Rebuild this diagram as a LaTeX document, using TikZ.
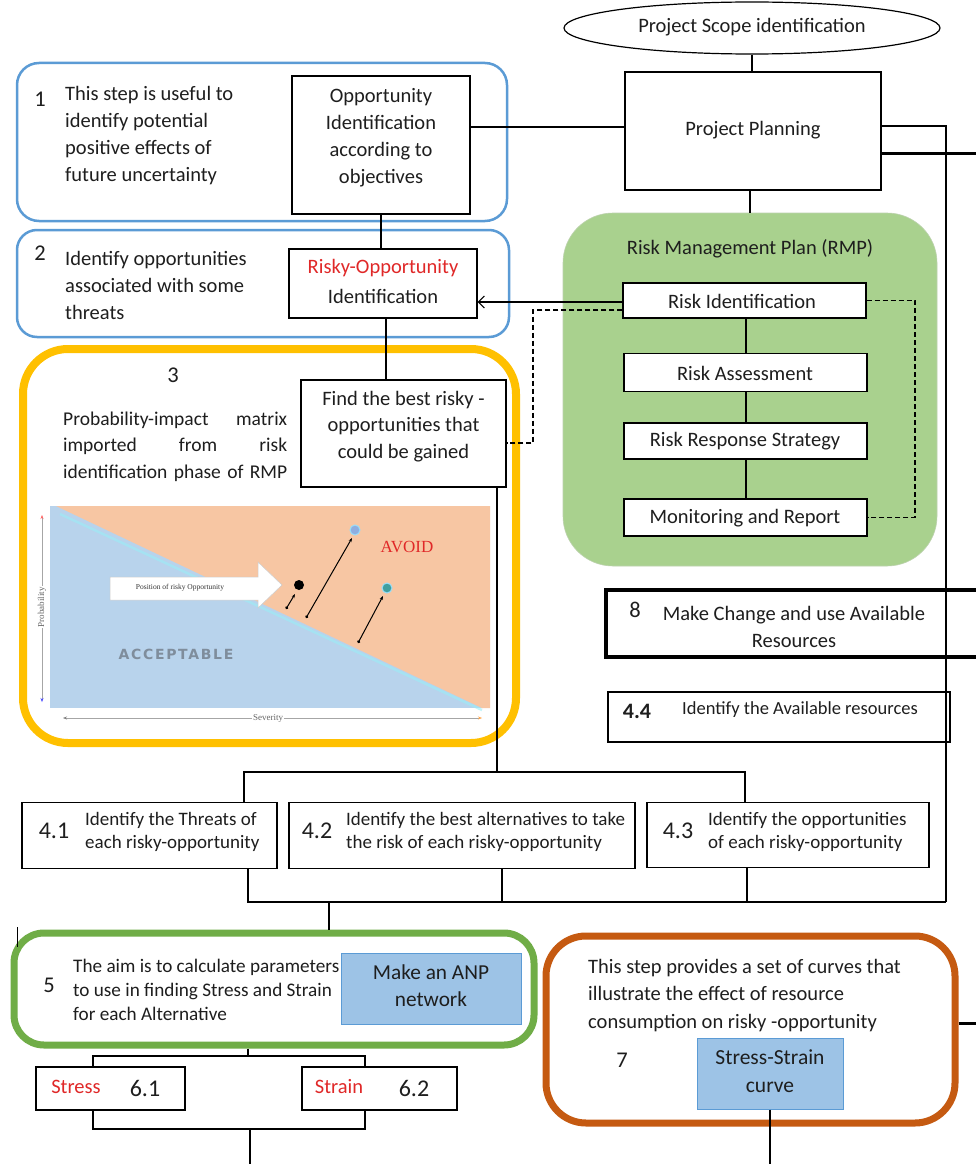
\documentclass[tikz,border=0pt]{standalone}
\usepackage{fontspec}
\setmainfont{Carlito}
\newfontfamily\chartserif{Liberation Serif}
\newfontfamily\accfont[LetterSpace=12]{DejaVu Sans}
\usetikzlibrary{shapes.geometric,arrows.meta}
\definecolor{blueframe}{HTML}{5B9BD5}
\definecolor{yellowframe}{HTML}{FFC000}
\definecolor{greenframe}{HTML}{70AD47}
\definecolor{orangeframe}{HTML}{C55A11}
\definecolor{rmpgreen}{HTML}{A9D18E}
\definecolor{anpblue}{HTML}{9DC3E6}
\definecolor{peach}{HTML}{F7C6A3}
\definecolor{skyfill}{HTML}{B8D3EC}
\definecolor{txtred}{HTML}{E02828}
\definecolor{txt}{HTML}{1E1E1E}
\definecolor{accgray}{HTML}{7F8D9C}
\tikzset{
  box/.style={draw=black, line width=1.2pt, fill=white, inner sep=0pt},
  conn/.style={draw=black, line width=1.1pt},
  thickconn/.style={draw=black, line width=3pt},
  frame/.style={rounded corners=#1, inner sep=0pt},
  tx/.style={text=txt, inner sep=0pt, font=\fontsize{20.5}{27}\selectfont},
  txl/.style={tx, align=left, anchor=west},
  txc/.style={tx, align=center},
  num/.style={text=txt, inner sep=0pt, font=\fontsize{22.5}{26}\selectfont},
  bignum/.style={text=txt, inner sep=0pt, font=\fontsize{24}{28}\selectfont},
  dot/.style={circle, inner sep=0pt, minimum size=#1},
}
\begin{document}
\begin{tikzpicture}[x=1pt,y=-1pt]
\useasboundingbox (0,0) rectangle (976,1164);
\clip (0,0) rectangle (976,1164);
\fill[white] (0,0) rectangle (976,1164);

% ---------- frames ----------
\node[frame=22pt, draw=blueframe, line width=2.5pt, minimum width=490, minimum height=158] (f1) at (262,142) {};
\node[frame=20pt, draw=blueframe, line width=2.5pt, minimum width=492, minimum height=107] (f2) at (263,283.5) {};
\node[frame=45pt, draw=yellowframe, line width=8pt, minimum width=493, minimum height=394] (f3) at (269.5,546) {};
\node[frame=50pt, fill=rmpgreen, draw=rmpgreen!85!black!60, line width=0.6pt, minimum width=374, minimum height=353] (rmp) at (750,389.5) {};
\node[frame=30pt, draw=greenframe, line width=7pt, minimum width=520, minimum height=112] (f5) at (274,989) {};
\node[frame=40pt, draw=orangeframe, line width=7pt, minimum width=409, minimum height=187] (f7) at (750.5,1029.5) {};

% ---------- chart (probability-impact matrix) ----------
\fill[skyfill] (50,506) rectangle (490,708);
\fill[peach] (56,506) -- (490,506) -- (490,708) -- (482,708) -- cycle;
\draw[color=skyfill!60!cyan!70, line width=2.5pt, opacity=0.6] (60,514) -- (482,710);
\draw[color=gray!70, line width=0.5pt, {Stealth[length=4pt,color=red!60]}-{Stealth[length=4pt,color=blue!70]}] (42,515) -- (42,702);
\node[rotate=90, fill=white, inner sep=1pt, text=gray!80!black, font=\chartserif\fontsize{9}{10}\selectfont] (plab) at (42,607) {Probability};
\draw[color=gray!70, line width=0.5pt, {Stealth[length=4pt,color=gray]}-{Stealth[length=4pt,color=orange!70]}] (63,718) -- (482,718);
\node[fill=white, inner sep=1pt, text=gray!80!black, font=\chartserif\fontsize{9}{10}\selectfont] (slab) at (268,718) {Severity};
\draw[fill=white, draw=gray!40, line width=0.5pt] (110,577) -- (258,577) -- (258,562) -- (282,585) -- (258,608) -- (258,600) -- (110,600) -- cycle;
\node[text=black!80, inner sep=0pt, font=\chartserif\fontsize{7.5}{9}\selectfont] (posl) at (180,588) {Position of risky Opportunity};
\node[dot=10pt, fill=black] (bd) at (299,585) {};
\node[dot=10pt, fill=cyan!50!blue!45, draw=cyan!40, line width=1pt] (cd) at (355,530) {};
\node[dot=10pt, fill=teal!75, draw=cyan!40, line width=1pt] (td) at (387,588) {};
\coordinate (a1s) at (286,609); \coordinate (a1e) at (295,594);
\coordinate (a2s) at (306,618); \coordinate (a2e) at (352,538);
\coordinate (a3s) at (358,643); \coordinate (a3e) at (383,596);
\draw[line width=1pt, {Circle[length=3pt]}-{Stealth[length=4pt]}] (a1s) -- (a1e);
\draw[line width=1pt, {Circle[length=3pt]}-{Stealth[length=4pt]}] (a2s) -- (a2e);
\draw[line width=1pt, {Circle[length=3pt]}-{Stealth[length=4pt]}] (a3s) -- (a3e);
\node[text=txtred, inner sep=0pt, font=\chartserif\fontsize{17}{18}\selectfont] (avoid) at (407,547) {AVOID};
\node[text=accgray, inner sep=0pt, font=\accfont\bfseries\fontsize{14}{16}\selectfont] (acc) at (176,654) {ACCEPTABLE};

% ---------- boxes ----------
\node[box, ellipse, minimum width=376, minimum height=52] (scope) at (752,28) {};
\node[box, minimum width=256, minimum height=118] (pp) at (753,131) {};
\node[box, minimum width=178, minimum height=138] (opp) at (381,145) {};
\node[box, minimum width=188, minimum height=69] (risky) at (383,283.5) {};
\node[box, minimum width=205, minimum height=107] (find) at (403.5,433.5) {};
\node[box, minimum width=243, minimum height=35] (ri) at (744.5,300.5) {};
\node[box, minimum width=243, minimum height=38] (ra) at (745.5,372.5) {};
\node[box, minimum width=243, minimum height=36] (rrs) at (745.5,441) {};
\node[box, minimum width=243, minimum height=37] (mr) at (745.5,517.5) {};
\node[box, line width=4pt, minimum width=390, minimum height=67] (b8) at (801,623.5) {};
\node[box, minimum width=342, minimum height=50] (b44) at (779,717) {};
\node[box, minimum width=255, minimum height=66] (b41) at (149.5,835.5) {};
\node[box, minimum width=346, minimum height=66] (b42) at (462,835.5) {};
\node[box, minimum width=282, minimum height=65] (b43) at (788,835) {};
\node[box, fill=anpblue, draw=blueframe, line width=1pt, minimum width=180, minimum height=71] (anp) at (431,988.5) {};
\node[box, minimum width=149, minimum height=43] (stress) at (110.5,1088.5) {};
\node[box, minimum width=155, minimum height=43] (strain) at (379.5,1088.5) {};
\node[box, fill=anpblue, draw=blueframe, line width=1pt, minimum width=146, minimum height=71] (curve) at (770,1073.5) {};

% ---------- connector coordinates ----------
\coordinate (rv) at (946,126);
\coordinate (bb2) at (946,902);
\coordinate (bb1) at (248,902);
\coordinate (bt1) at (244,772);
\coordinate (bt2) at (745,772);
\coordinate (ft) at (497,772);
\coordinate (dl) at (533,310);
\coordinate (dr) at (915,300.5);
\coordinate (g5) at (329,902);
\coordinate (sb) at (248,1056);
\coordinate (sb1) at (93,1056);
\coordinate (sb2) at (365,1056);
\coordinate (lb) at (250,1129);
\coordinate (lb1) at (93,1129);
\coordinate (lb2) at (365,1129);
\coordinate (bottomL) at (250,1164);
\coordinate (bottomR) at (770,1164);
\coordinate (edge1) at (976,153);
\coordinate (edge2) at (976,1023);
\coordinate (mk1) at (17,927);
\coordinate (mk2) at (17,947);

% ---------- connectors ----------
\draw[conn] (scope.south) -- (scope.south |- pp.north);
\draw[conn] (pp.west |- 0,127) -- (opp.east |- 0,127);
\draw[conn] (pp.east |- rv) -- (rv) -- (bb2);
\draw[thickconn] (pp.east |- edge1) -- (edge1);
\draw[conn] (pp.south -| rmp.north) -- (rmp.north);
\draw[conn] (opp.south) -- (opp.south |- risky.north);
\draw[conn, -{Straight Barb[length=6pt,width=12pt]}] ([yshift=-1.5pt]ri.west) -- ([yshift=-1.5pt]ri.west -| risky.east);
\draw[line width=1.1pt, dash pattern=on 5pt off 3pt] ([yshift=-9.5pt]ri.west) -- (dl) |- ([yshift=-9.5pt]find.east);
\draw[line width=1.1pt, dash pattern=on 5pt off 3pt] (ri.east) -- (dr) |- (mr.east);
\draw[conn] (ri.south -| 746,0) -- (ra.north -| 746,0);
\draw[conn] (ra.south -| 746,0) -- (rrs.north -| 746,0);
\draw[conn] (rrs.south -| 746,0) -- (mr.north -| 746,0);
\draw[conn] (risky.south -| 386,0) -- (find.north -| 386,0);
\draw[conn] (find.south -| ft) -- (ft);
\draw[conn] (bt1 |- b41.north) -- (bt1) -- (bt2) -- (bt2 |- b43.north);
\draw[conn] (bb1 |- b41.south) -- (bb1) -- (bb2);
\draw[conn] (b42.south -| 502,0) -- (502,902);
\draw[conn] (b43.south -| 747,0) -- (747,902);
\draw[conn] (g5) -- (g5 |- f5.north);
\draw[conn] (f5.south -| sb) -- (sb);
\draw[conn] (sb1 |- stress.north) -- (sb1) -- (sb2) -- (sb2 |- strain.north);
\draw[conn] (lb1 |- stress.south) -- (lb1) -- (lb2) -- (lb2 |- strain.south);
\draw[conn] (lb) -- (bottomL);
\draw[conn] (curve.south) -- (bottomR);
\draw[thickconn] (f7.east |- edge2) -- (edge2);
\draw[line width=0.8pt] (mk1) -- (mk2);

% ---------- texts ----------
\node[tx] (scopet) at (752,27) {Project Scope identification};
\node[tx] (ppt) at (753,130) {Project Planning};
\node[num] (n1) at (40,99) {1};
\node[txl] (t1) at (65,135.5) {This step is useful to\\identify potential\\positive effects of\\future uncertainty};
\node[txc] (oppt) at (381,138) {Opportunity\\Identification\\according to\\objectives};
\node[num] (n2) at (40,253) {2};
\node[txl] (t2) at (65,285) {Identify opportunities\\associated with some\\threats};
\node[txc, text=txtred] (riskyt1) at (383,268) {Risky-Opportunity};
\node[txc] (riskyt2) at (383,296) {Identification};
\node[num] (n3) at (173,375) {3};
\node[tx, align=left, anchor=west, text width=224pt, font=\fontsize{19.5}{26.5}\selectfont] (t3) at (63,446.5) {Probability-impact\hfill matrix\\imported\hfill from\hfill risk\\identification\hfill phase\hfill of\hfill RMP};
\node[tx, align=center, font=\fontsize{20.5}{26.5}\selectfont] (findt) at (403.5,426.5) {Find the best risky -\\opportunities that\\could be gained};
\node[tx] (rmpt) at (750,249) {Risk Management Plan (RMP)};
\node[tx] (rit) at (742,301) {Risk Identification};
\node[tx] (rat) at (745,373) {Risk Assessment};
\node[tx] (rrst) at (745,441) {Risk Response Strategy};
\node[tx] (mrt) at (745,518) {Monitoring and Report};
\node[num] (n8) at (635,610) {8};
\node[txc] (t8) at (794,626.5) {Make Change and use Available\\Resources};
\node[bignum, font=\bfseries\fontsize{22}{26}\selectfont] (n44) at (637,711) {4.4};
\node[tx, anchor=west, font=\fontsize{18.5}{22}\selectfont] (t44) at (682,710) {Identify the Available resources};
\node[bignum] (n41) at (54,831) {4.1};
\node[txl, font=\fontsize{19}{23}\selectfont] (t41) at (85,832) {Identify the Threats of\\each risky-opportunity};
\node[bignum] (n42) at (317,831) {4.2};
\node[txl, font=\fontsize{19}{23}\selectfont] (t42) at (346,832) {Identify the best alternatives to take\\the risk of each risky-opportunity};
\node[bignum] (n43) at (678,831) {4.3};
\node[txl, font=\fontsize{19}{23}\selectfont] (t43) at (708,832) {Identify the opportunities\\of each risky-opportunity};
\node[num] (n5) at (49,985) {5};
\node[txl, font=\fontsize{19.2}{24}\selectfont] (t5) at (73,990) {The aim is to calculate parameters\\to use in finding Stress and Strain\\for each Alternative};
\node[txc, font=\fontsize{21.3}{27}\selectfont] (anpt) at (431,985.5) {Make an ANP\\network};
\node[tx, text=txtred] (st1) at (76,1087) {Stress};
\node[bignum] (n61) at (145,1088) {6.1};
\node[tx, text=txtred] (st2) at (339,1087) {Strain};
\node[bignum] (n62) at (414,1088) {6.2};
\node[txl, font=\fontsize{20.5}{27.5}\selectfont] (t7) at (588,995.5) {This step provides a set of curves that\\illustrate the effect of resource\\consumption on risky -opportunity};
\node[num] (n7) at (622,1060) {7};
\node[txc, font=\fontsize{21.5}{28}\selectfont] (curvet) at (770,1071) {Stress-Strain\\curve};
\end{tikzpicture}
\end{document}
